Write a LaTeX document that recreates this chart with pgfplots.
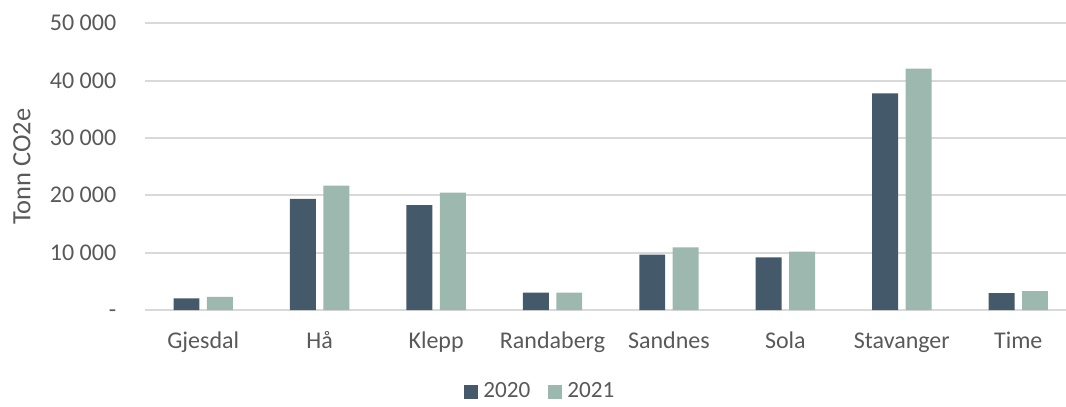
\documentclass[border=0pt]{standalone}
\usepackage{fontspec}
\setmainfont{Carlito}
\usepackage{pgfplots}
\pgfplotsset{compat=1.18}
\usetikzlibrary{calc}
\definecolor{cA}{HTML}{44596A}
\definecolor{cB}{HTML}{9DB8AE}
\definecolor{txt}{HTML}{595959}
\definecolor{grd}{HTML}{D9D9D9}
\begin{document}
\begin{tikzpicture}
\begin{axis}[
  width=460.5bp, height=143.35bp, scale only axis,
  xmin=-0.5, xmax=7.41, ymin=0, ymax=50000,
  axis x line*=bottom, axis y line*=left,
  y axis line style={draw=none},
  x axis line style={draw=grd, line width=1bp},
  major tick length=0pt,
  scaled y ticks=false,
  xtick={0,...,7},
  xticklabels={Gjesdal,Hå,Klepp,Randaberg,Sandnes,Sola,Stavanger,Time},
  ytick={0,10000,20000,30000,40000,50000},
  yticklabels={{-\hspace{8.8bp}},10 000,20 000,30 000,40 000,50 000},
  ymajorgrids, grid style={draw=grd, line width=0.9bp},
  tick label style={font=\fontsize{12bp}{14bp}\selectfont, text=txt},
  xticklabel style={anchor=base, yshift=-19.2bp, inner sep=0pt},
  yticklabel style={anchor=east, inner sep=0pt, xshift=-14.2bp, text height=7.6bp, text depth=0pt},
  ylabel={Tonn CO2e},
  ylabel style={at={(axis description cs:0,0.5)}, anchor=center, rotate=0, yshift=61.5bp, font=\fontsize{13.2bp}{15bp}\selectfont, text=txt},
  legend columns=2,
  legend style={draw=none, at={(axis description cs:0.431,-0.285)}, anchor=center,
    font=\fontsize{11.6bp}{14bp}\selectfont, text=txt,
    /tikz/every even column/.append style={column sep=6.5bp},
    nodes={inner sep=2.5bp}},
  legend image code/.code={\fill[#1, draw=none] (0bp,-3.5bp) rectangle (7bp,3.5bp);},
]
\addplot[ybar, bar width=0.223, bar shift=-0.1435, fill=cA, draw=none] coordinates {
  (0,2020) (1,19360) (2,18310) (3,3040) (4,9650) (5,9180) (6,37800) (7,2960)};
\addlegendentry{2020}
\addplot[ybar, bar width=0.223, bar shift=0.1435, fill=cB, draw=none] coordinates {
  (0,2270) (1,21680) (2,20460) (3,3020) (4,10920) (5,10170) (6,42090) (7,3310)};
\addlegendentry{2021}
\end{axis}
\pgfresetboundingbox
\path[use as bounding box] ($(current axis.south west)+(-72.5bp,-48bp)$) rectangle ($(current axis.north east)+(0,11.65bp)$);
\end{tikzpicture}
\end{document}
